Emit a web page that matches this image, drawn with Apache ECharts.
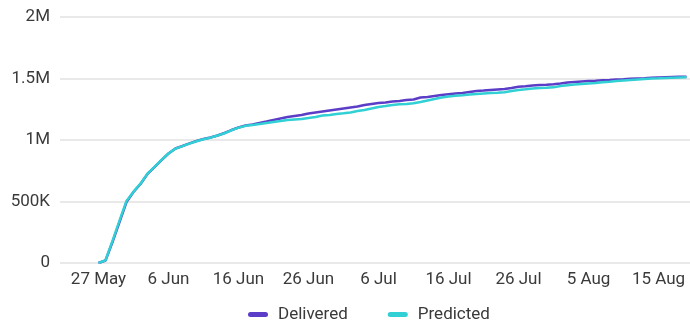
<!DOCTYPE html>
<html>
<head>
<meta charset="utf-8">
<script src="https://cdn.jsdelivr.net/npm/echarts@6/dist/echarts.min.js"></script>
<style>
html,body{margin:0;padding:0;background:#fff;}
#chart{width:690px;height:325px;}
</style>
</head>
<body>
<div id="chart"></div>
<script>
// Axis dates: 22 May .. 19 Aug (one category per day)
var startDate = { month: 4, day: 22 }; // 22 May
var dayCount = 90;
var monthNames = ['Jan','Feb','Mar','Apr','May','Jun','Jul','Aug','Sep','Oct','Nov','Dec'];
var tickLabels = ['27 May','6 Jun','16 Jun','26 Jun','6 Jul','16 Jul','26 Jul','5 Aug','15 Aug'];
var yTickLabels = ['0','500K','1M','1.5M','2M'];
var seriesNames = ['Delivered','Predicted'];

// Values (thousands) starting 27 May, one per day
var delivered = [0,20,171,333,496,577,642,724,780,837,
  890,931,951,972,992,1008,1020,1037,1057,1081,
  1102,1118,1126,1138,1150,1163,1175,1187,1195,1203,
  1215,1224,1232,1240,1248,1256,1264,1272,1285,1293,
  1301,1305,1313,1317,1325,1329,1346,1350,1358,1366,
  1372,1378,1382,1390,1398,1402,1407,1411,1415,1423,
  1433,1437,1443,1447,1450,1454,1459,1467,1472,1476,
  1480,1482,1485,1488,1492,1494,1498,1500,1502,1506,
  1508,1510,1512,1514,1515];
var predicted = [0,22,180,345,505,580,645,726,782,838,
  890,930,950,970,990,1006,1019,1036,1055,1079,
  1100,1115,1122,1130,1138,1146,1154,1163,1167,1171,
  1179,1187,1199,1203,1211,1217,1224,1236,1244,1256,
  1268,1276,1285,1290,1293,1298,1309,1321,1333,1346,
  1354,1359,1363,1370,1374,1378,1382,1384,1388,1398,
  1407,1412,1419,1423,1425,1428,1439,1445,1451,1455,
  1459,1463,1469,1474,1480,1484,1488,1492,1496,1500,
  1502,1505,1507,1509,1511];
var dataStartIndex = 5; // 27 May is the 6th category

var categories = [];
for (var i = 0; i < dayCount; i++) {
  var d = new Date(2021, startDate.month, startDate.day + i);
  categories.push(d.getDate() + ' ' + monthNames[d.getMonth()]);
}
function pad(arr) {
  var out = [];
  for (var i = 0; i < dataStartIndex; i++) out.push(null);
  for (var j = 0; j < arr.length; j++) out.push(arr[j] * 1000);
  return out;
}

var chart = echarts.init(document.getElementById('chart'));
var font = 'Roboto, "Noto Sans", sans-serif';
var textColor = '#3a3a3a';
chart.setOption({
  animation: false,
  textStyle: { fontFamily: font },
  grid: { left: 60, right: 0, top: 17, bottom: 62, containLabel: false },
  legend: {
    top: 306,
    left: 248,
    padding: 0,
    itemWidth: 20,
    itemHeight: 5,
    itemGap: 40,
    icon: 'path://M2.5,0 L17.5,0 A2.5,2.5 0 0 1 17.5,5 L2.5,5 A2.5,2.5 0 0 1 2.5,0 Z',
    textStyle: { fontSize: 17, color: textColor, fontFamily: font, padding: [0, 0, 0, 5] },
    data: seriesNames
  },
  xAxis: {
    type: 'category',
    boundaryGap: true,
    data: categories,
    axisLine: { show: false },
    axisTick: { show: false },
    splitLine: { show: false },
    axisLabel: {
      interval: function (idx, val) { return tickLabels.indexOf(val) >= 0; },
      fontSize: 17,
      color: textColor,
      margin: 8,
      fontFamily: font
    }
  },
  yAxis: {
    type: 'value',
    min: 0,
    max: 2000000,
    interval: 500000,
    axisLine: { show: false },
    axisTick: { show: false },
    splitLine: { lineStyle: { color: '#e2e2e2', width: 1.5 } },
    axisLabel: {
      fontSize: 17,
      color: textColor,
      margin: 10,
      fontFamily: font,
      formatter: function (v) { return yTickLabels[Math.round(v / 500000)]; }
    }
  },
  series: [
    {
      name: seriesNames[0], type: 'line', data: pad(delivered),
      showSymbol: false, symbol: 'none',
      itemStyle: { color: '#5b3dc8' },
      lineStyle: { color: '#5b3dc8', width: 2.5 }
    },
    {
      name: seriesNames[1], type: 'line', data: pad(predicted),
      showSymbol: false, symbol: 'none',
      itemStyle: { color: '#30d0d5' },
      lineStyle: { color: '#30d0d5', width: 2.5 }
    }
  ]
});
</script>
</body>
</html>
